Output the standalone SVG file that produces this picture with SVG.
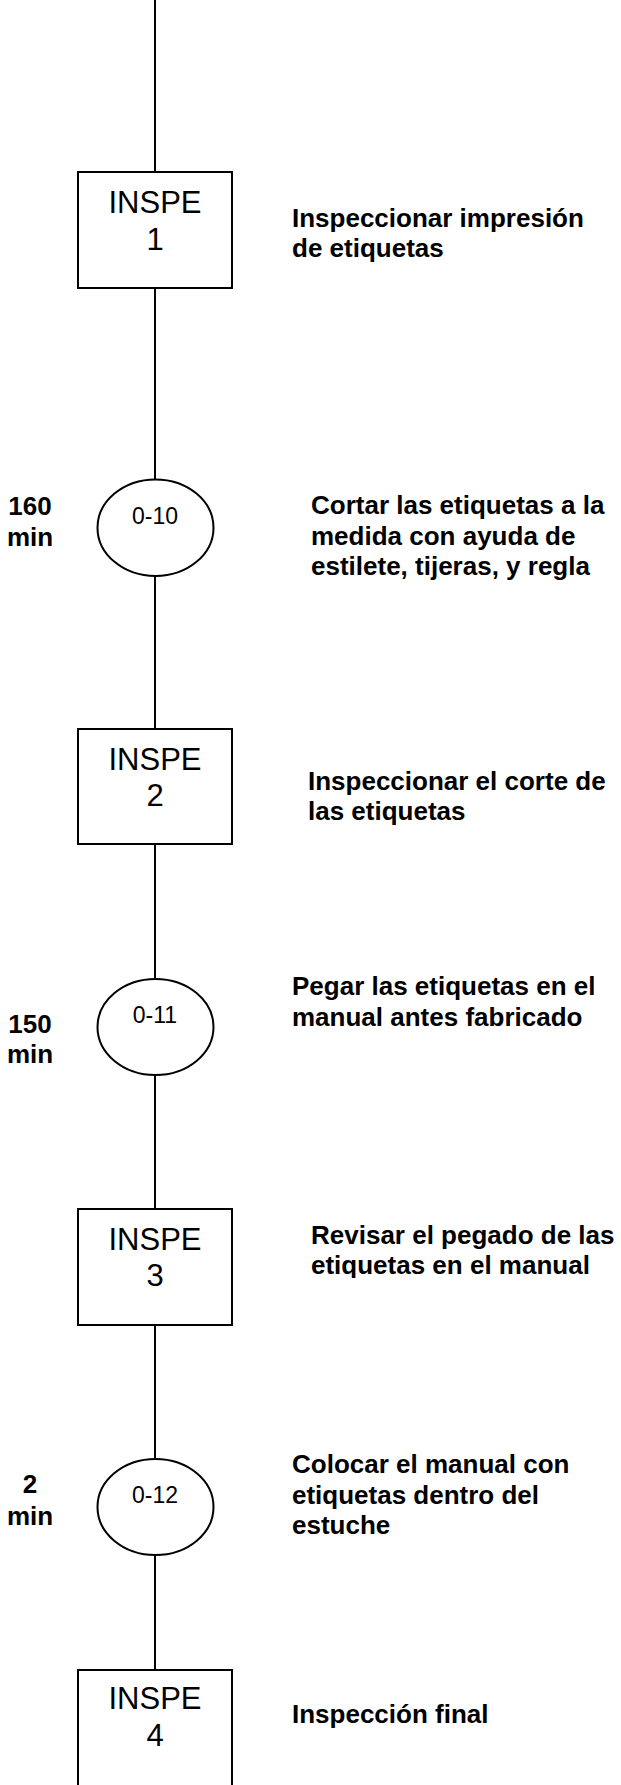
<svg xmlns="http://www.w3.org/2000/svg" width="621" height="1785" viewBox="0 0 621 1785">
<style>
.box{fill:#fff;stroke:#000;stroke-width:2}
.op{fill:#fff;stroke:#000;stroke-width:2}
.ln{stroke:#000;stroke-width:2;fill:none}
.in{font-family:"Liberation Sans",Arial,sans-serif;font-size:31px;text-anchor:middle;fill:#000}
.oc{font-family:"Liberation Sans",Arial,sans-serif;font-size:23px;text-anchor:middle;fill:#000}
.d{font-family:"Liberation Sans",Arial,sans-serif;font-size:26px;font-weight:bold;fill:#000}
.t{font-family:"Liberation Sans",Arial,sans-serif;font-size:26px;font-weight:bold;text-anchor:middle;fill:#000}
</style>
<defs>
<clipPath id="c1" clipPathUnits="userSpaceOnUse"><rect x="0" y="190" width="621" height="72"/></clipPath>
<clipPath id="c2" clipPathUnits="userSpaceOnUse"><rect x="0" y="750" width="621" height="75"/></clipPath>
<clipPath id="c3" clipPathUnits="userSpaceOnUse"><rect x="0" y="1200" width="621" height="78"/></clipPath>
</defs>
<rect width="621" height="1785" fill="#fff"/>
<g id="connectors">
<line class="ln" x1="155" y1="0" x2="155" y2="172"/>
<line class="ln" x1="155" y1="288" x2="155" y2="479"/>
<line class="ln" x1="155" y1="576" x2="155" y2="729"/>
<line class="ln" x1="155" y1="844" x2="155" y2="979"/>
<line class="ln" x1="155" y1="1075" x2="155" y2="1209"/>
<line class="ln" x1="155" y1="1325" x2="155" y2="1459"/>
<line class="ln" x1="155" y1="1555" x2="155" y2="1670"/>
</g>
<g id="inspe1">
<rect class="box" x="78" y="172" width="154" height="116"/>
<text class="in" x="155" y="213">INSPE</text>
<text class="in" x="155" y="250">1</text>
<g clip-path="url(#c1)"><text class="d" x="292" y="227">Inspeccionar impresión</text>
<text class="d" x="292" y="257">de etiquetas</text></g>
</g>
<g id="op10">
<ellipse class="op" cx="155.5" cy="527.7" rx="58" ry="48.3"/>
<text class="oc" x="155" y="524">0-10</text>
<text class="t" x="30" y="515">160</text>
<text class="t" x="30" y="546">min</text>
<text class="d" x="311" y="514">Cortar las etiquetas a la</text>
<text class="d" x="311" y="545">medida con ayuda de</text>
<text class="d" x="311" y="575">estilete, tijeras, y regla</text>
</g>
<g id="inspe2">
<rect class="box" x="78" y="729" width="154" height="115"/>
<text class="in" x="155" y="770">INSPE</text>
<text class="in" x="155" y="806">2</text>
<g clip-path="url(#c2)"><text class="d" x="308" y="790">Inspeccionar el corte de</text>
<text class="d" x="308" y="820">las etiquetas</text></g>
</g>
<g id="op11">
<ellipse class="op" cx="155.5" cy="1027" rx="58" ry="48"/>
<text class="oc" x="155" y="1023">0-11</text>
<text class="t" x="30" y="1033">150</text>
<text class="t" x="30" y="1063">min</text>
<text class="d" x="292" y="995">Pegar las etiquetas en el</text>
<text class="d" x="292" y="1026">manual antes fabricado</text>
</g>
<g id="inspe3">
<rect class="box" x="78" y="1209" width="154" height="116"/>
<text class="in" x="155" y="1250">INSPE</text>
<text class="in" x="155" y="1286">3</text>
<g clip-path="url(#c3)"><text class="d" x="311" y="1244">Revisar el pegado de las</text>
<text class="d" x="311" y="1274">etiquetas en el manual</text></g>
</g>
<g id="op12">
<ellipse class="op" cx="155.5" cy="1507" rx="58" ry="48"/>
<text class="oc" x="155" y="1503">0-12</text>
<text class="t" x="30" y="1493">2</text>
<text class="t" x="30" y="1525">min</text>
<text class="d" x="292" y="1473">Colocar el manual con</text>
<text class="d" x="292" y="1504">etiquetas dentro del</text>
<text class="d" x="292" y="1534">estuche</text>
</g>
<g id="inspe4">
<rect class="box" x="78" y="1670" width="154" height="125"/>
<text class="in" x="155" y="1709">INSPE</text>
<text class="in" x="155" y="1746">4</text>
<text class="d" x="292" y="1723">Inspección final</text>
</g>
</svg>
